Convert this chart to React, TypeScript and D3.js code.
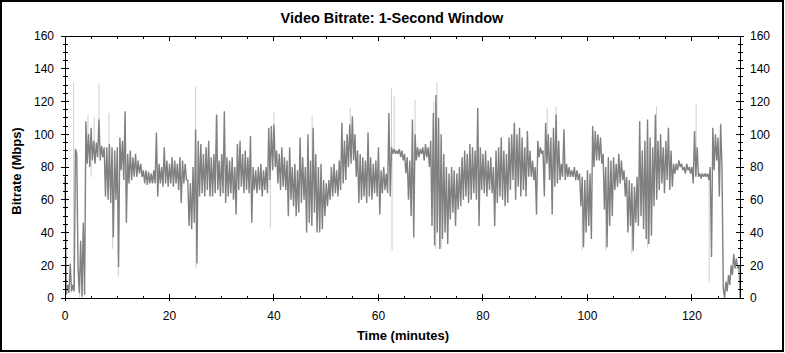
import React from "react";
import * as d3 from "d3";

// ---- data ----
// Dark series: per half-minute bucket, [high, low] of the 1-second bitrate (Mbps)
const bucketMinutes = 0.5;
const darkBuckets: [number, number][] = [
  [74,2],[8,3],[21,4],[8,4],[91,88],[18,3],[35,1],[46,2],[108,82],[100,80],
  [104,84],[96,82],[95,86],[109,84],[93,86],[92,62],[92,60],[94,58],[92,37],[90,60],
  [92,19],[98,78],[96,72],[114,46],[88,70],[90,72],[86,74],[88,74],[84,76],[82,74],
  [78,70],[78,69],[77,70],[76,70],[78,70],[101,62],[82,70],[80,68],[92,70],[84,68],
  [82,70],[86,68],[84,70],[82,66],[86,58],[84,70],[82,72],[72,44],[70,42],[80,46],
  [103,21],[96,62],[94,64],[88,62],[92,66],[96,62],[86,62],[88,64],[112,66],[84,62],
  [88,64],[114,58],[86,62],[84,64],[86,60],[80,51],[94,66],[96,68],[88,64],[90,66],
  [86,64],[99,46],[80,66],[78,64],[80,66],[82,62],[78,66],[80,64],[104,72],[105,78],
  [106,80],[90,70],[88,66],[92,68],[86,66],[84,50],[92,60],[80,56],[82,50],[78,52],
  [98,58],[86,60],[80,40],[100,46],[84,44],[104,52],[88,40],[80,40],[82,42],[72,50],
  [70,56],[72,60],[80,62],[82,64],[78,62],[84,66],[107,70],[96,72],[100,80],[106,82],
  [111,84],[100,74],[90,58],[88,60],[86,62],[84,58],[101,62],[86,60],[82,64],[84,62],
  [92,51],[78,64],[80,66],[76,64],[113,62],[92,88],[91,88],[90,88],[91,86],[90,84],
  [88,76],[86,60],[84,50],[109,37],[100,84],[92,86],[91,88],[92,84],[94,86],[92,80],
  [96,44],[113,32],[124,40],[110,30],[100,36],[88,40],[80,33],[76,48],[80,52],[78,44],
  [76,54],[80,56],[86,60],[90,62],[88,58],[94,60],[92,64],[90,60],[116,44],[92,66],
  [88,64],[90,62],[84,66],[86,64],[80,44],[90,58],[92,62],[98,60],[90,56],[88,58],
  [98,66],[100,72],[107,60],[100,68],[104,62],[98,66],[92,62],[102,74],[90,74],[84,72],
  [80,51],[96,86],[92,88],[90,62],[107,82],[100,72],[98,51],[104,68],[112,70],[96,72],
  [82,74],[103,72],[82,74],[80,74],[78,74],[80,72],[78,72],[76,56],[74,31],[72,40],
  [78,44],[76,36],[105,80],[102,84],[100,84],[98,82],[88,54],[80,31],[86,44],[84,50],
  [86,66],[82,68],[88,70],[84,72],[78,62],[74,40],[72,44],[70,29],[68,46],[74,44],
  [108,50],[90,42],[96,36],[109,33],[98,38],[92,56],[112,60],[96,66],[100,70],[92,64],
  [96,72],[104,66],[90,68],[82,76],[82,78],[84,80],[82,78],[80,76],[82,78],[80,76],
  [80,70],[102,74],[92,74],[76,73],[76,74],[76,74],[76,72],[80,25],[104,78],[100,84],
  [98,62],[106,80],[6,0],[10,4],[14,8],[20,14],[27,18],[24,18],[20,0],
];

// Light series: isolated extremes [minute, Mbps] that stick out of the dark trace
const lightSpikes: [number, number][] = [
  [0.1,113],[1.66,132],[2.8,0],[3.3,0],[4.4,112],[5.0,74],[5.6,111],[6.5,131],
  [8.4,113],[9.1,30],[10.2,13],[25.0,129],[25.1,18],[29.1,112],[39.3,43],[40.0,114],
  [47.3,111],[54.6,116],[62.5,128],[62.6,29],[63.0,123],[67.0,121],[70.6,120],
  [71.2,132],[71.0,30],[72.0,30],[79.0,116],[86.1,107],[92.3,116],[94.0,117],
  [99.0,29],[103.5,29],[108.5,27],[111.5,31],[113.2,117],[120.8,119],[123.3,10],
  [125.5,107],
];

const xMajorTicks = [0, 20, 40, 60, 80, 100, 120];
const xMinorTicks = [0,5,10,15,20,25,30,35,40,45,50,55,60,65,70,75,80,85,90,95,100,105,110,115,120,125];
const yMajorTicks = [0, 20, 40, 60, 80, 100, 120, 140, 160];
const yMinorTicks = [0,5,10,15,20,25,30,35,40,45,50,55,60,65,70,75,80,85,90,95,100,105,110,115,120,125,130,135,140,145,150,155,160];

const title = "Video Bitrate: 1-Second Window";
const xTitle = "Time (minutes)";
const yTitle = "Bitrate (Mbps)";

export default function App() {
  const W = 785, H = 353;
  const left = 65, right = 740, top = 36, bottom = 298;
  const x = d3.scaleLinear().domain([0, 129.2]).range([left, right]);
  const y = d3.scaleLinear().domain([0, 160]).range([bottom, top]);

  const pts: [number, number][] = [];
  darkBuckets.forEach(([hi, lo], i) => {
    const t = i * bucketMinutes;
    pts.push([t, hi]);
    pts.push([t + bucketMinutes / 2, lo]);
  });
  const line = d3.line<[number, number]>().x(d => x(d[0])).y(d => y(d[1]));

  // light spikes: vertical strokes from the dark trace to the extreme value
  const baseAt = (t: number) => {
    const i = Math.min(darkBuckets.length - 1, Math.max(0, Math.floor(t / bucketMinutes)));
    const [hi, lo] = darkBuckets[i];
    return (hi + lo) / 2;
  };

  const font = "'Liberation Sans', Arial, sans-serif";
  const ax = "#000";

  return (
    <svg width={W} height={H} style={{ position: "absolute", left: 0, top: 0, background: "#fff" }} fontFamily={font}>
      <rect x={1} y={1} width={782} height={350} fill="#fff" stroke="#000" strokeWidth={2} />
      <text x={392} y={22.5} textAnchor="middle" fontSize={14.5} fontWeight="bold">{title}</text>

      <g>
        {lightSpikes.map(([t, v], i) => (
          <line key={i} x1={x(t)} x2={x(t)} y1={y(baseAt(t))} y2={y(v)} stroke="#cfcfcf" strokeWidth={1} />
        ))}
        <path d={line(pts) || ""} fill="none" stroke="#808080" strokeWidth={1.4} strokeLinejoin="miter" strokeMiterlimit={1} />
      </g>

      <g shapeRendering="crispEdges" stroke={ax} strokeWidth={1}>
        <line x1={left} x2={right} y1={top} y2={top} />
        <line x1={left} x2={right} y1={bottom} y2={bottom} />
        <line x1={left} x2={left} y1={top} y2={bottom} />
        <line x1={right} x2={right} y1={top} y2={bottom} />
        {xMinorTicks.map(t => (
          <g key={"xm" + t}>
            <line x1={x(t)} x2={x(t)} y1={bottom - 2.5} y2={bottom} />
            <line x1={x(t)} x2={x(t)} y1={top} y2={top + 3} />
          </g>
        ))}
        {xMajorTicks.map(t => (
          <g key={"xM" + t}>
            <line x1={x(t)} x2={x(t)} y1={bottom - 4} y2={bottom + 3} />
            <line x1={x(t)} x2={x(t)} y1={top} y2={top + 5} />
          </g>
        ))}
        {yMinorTicks.map(v => (
          <g key={"ym" + v}>
            <line x1={left - 2.5} x2={left + 2.5} y1={y(v)} y2={y(v)} />
            <line x1={right - 2.5} x2={right + 2.5} y1={y(v)} y2={y(v)} />
          </g>
        ))}
        {yMajorTicks.map(v => (
          <g key={"yM" + v}>
            <line x1={left - 4} x2={left + 4} y1={y(v)} y2={y(v)} />
            <line x1={right - 4} x2={right + 4} y1={y(v)} y2={y(v)} />
          </g>
        ))}
      </g>

      <g fontSize={12} fill="#000">
        {xMajorTicks.map(t => (
          <text key={"xl" + t} x={x(t)} y={320} textAnchor="middle">{t}</text>
        ))}
        {yMajorTicks.map(v => (
          <text key={"yl" + v} x={54} y={y(v) + 4.3} textAnchor="end">{v}</text>
        ))}
        {yMajorTicks.map(v => (
          <text key={"yr" + v} x={750} y={y(v) + 4.3} textAnchor="start">{v}</text>
        ))}
      </g>

      <text x={403} y={340} textAnchor="middle" fontSize={13} fontWeight="bold">{xTitle}</text>
      <text transform={`translate(20.5,171) rotate(-90)`} textAnchor="middle" fontSize={13} fontWeight="bold">{yTitle}</text>
    </svg>
  );
}
